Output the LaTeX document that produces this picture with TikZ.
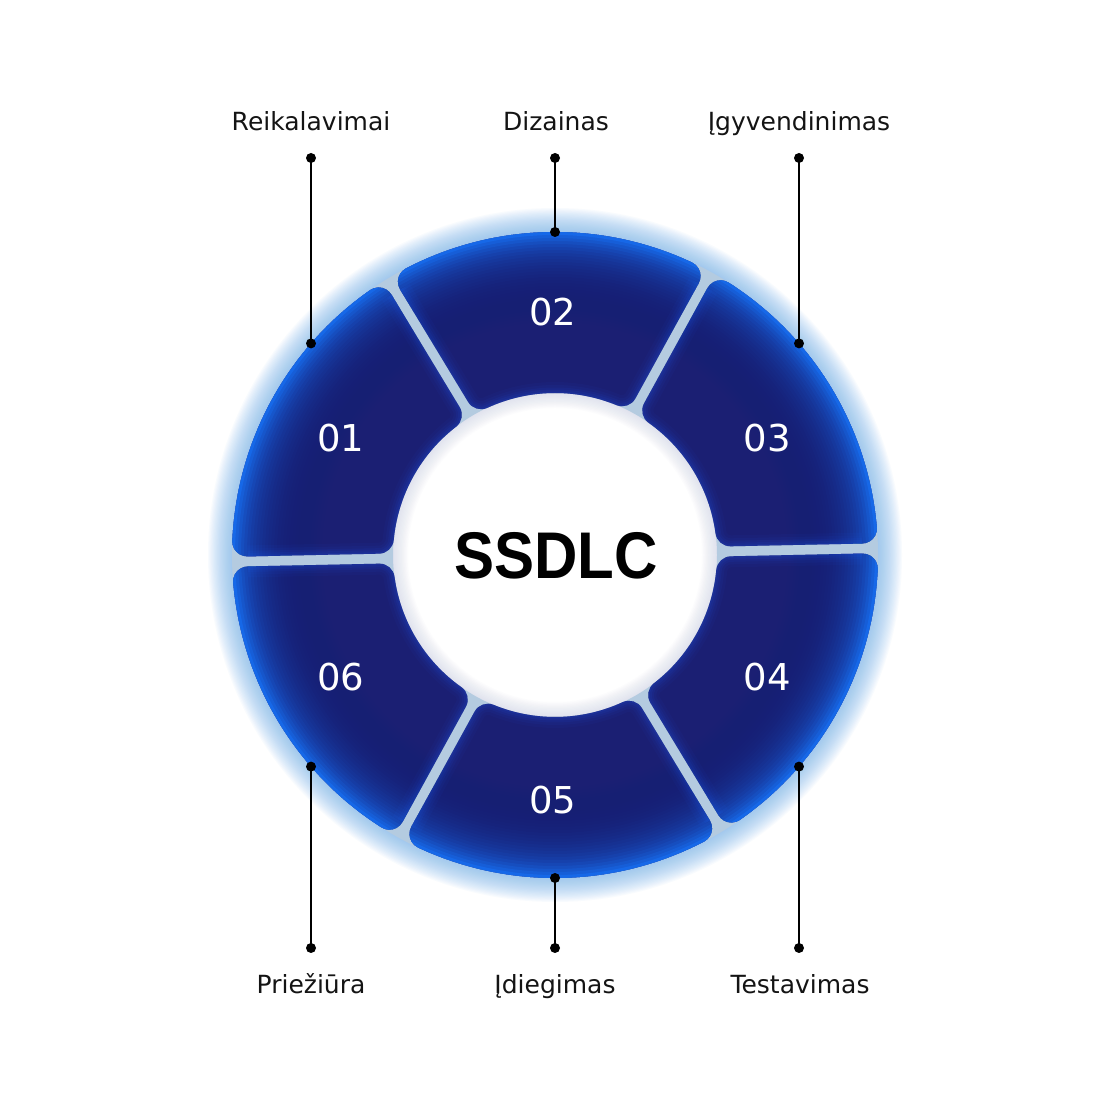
\documentclass[tikz,border=0pt]{standalone}
\usepackage{fontspec}
\setmainfont{DejaVu Sans}
\newfontfamily\titlefont{Liberation Sans}
\usepackage{graphicx}
\definecolor{navy}{RGB}{27,31,115}
\definecolor{rimblue}{RGB}{22,110,240}
\definecolor{edgeblue}{RGB}{36,80,215}
\definecolor{gapcol}{RGB}{180,203,224}
\definecolor{halo}{RGB}{110,175,238}
\definecolor{holeglow}{RGB}{175,182,215}
\definecolor{labtext}{RGB}{20,20,20}
\newcommand\segpath{(63.723:323pt) arc[start angle=63.723, end angle=116.277, radius=323pt] arc[start angle=116.277, end angle=210, radius=15pt] -- (118.372:175.94pt) arc[start angle=210, end angle=293.512, radius=15pt] arc[start angle=113.512, end angle=66.488, radius=162pt] arc[start angle=246.488, end angle=330, radius=15pt] -- (60.932:307.39pt) arc[start angle=-30, end angle=63.723, radius=15pt] -- cycle}
\newcommand\sidepath{(119.068:307.39pt) -- (118.372:175.94pt) arc[start angle=210, end angle=293.512, radius=15pt] arc[start angle=113.512, end angle=66.488, radius=162pt] arc[start angle=246.488, end angle=330, radius=15pt] -- (60.932:307.39pt)}
\newcommand\drawseg[1]{%
  \begin{scope}
    \clip[rotate=#1] \segpath;
    \fill[navy] (0,0) circle (330pt);
    \foreach \w/\o in {22/0.05,16/0.07,11/0.09,7/0.11,3/0.14}{\draw[rotate=#1, edgeblue, line width=\w pt, opacity=\o] \sidepath;}
    \foreach \i in {30,29,...,1}{%
      \pgfmathsetmacro\al{1-(1-0.95*exp(-(\i-1)*3/27))/(1-0.95*exp(-\i*3/27))}%
      \draw[rimblue, line width=6*\i pt, opacity=\al] (0,0) circle (323pt);}
  \end{scope}}
\begin{document}
\begin{tikzpicture}[x=1pt,y=1pt,
  conn/.style={line width=2pt, black},
  dotc/.style={fill=black},
  lab/.style={font=\fontsize{25}{30}\selectfont, text=labtext, anchor=base, inner sep=0pt},
  num/.style={font=\fontsize{37}{44}\selectfont, text=white, inner sep=0pt}]
\useasboundingbox (0,0) rectangle (1110,1110);
\fill[white] (0,0) rectangle (1110,1110);
\begin{scope}[shift={(555,555)}]
  % outer halo
  \foreach \i in {1,...,20}{\draw[halo, line width=2.4*\i pt, opacity=0.045] (0,0) circle (323pt);}
  % hole glow
  \foreach \i in {1,...,12}{\draw[holeglow, line width=2.5*\i pt, opacity=0.03] (0,0) circle (162pt);}
  % gaps
  \fill[gapcol, even odd rule] (0,0) circle (323pt) (0,0) circle (162pt);
  % segments
  \drawseg{1.2}
  \drawseg{-58.8}
  \drawseg{-118.8}
  \drawseg{-178.8}
  \drawseg{121.2}
  \drawseg{61.2}
\end{scope}
% numbers
\node[num] (n01) at (341,672) {01};
\node[num] (n02) at (553,798) {02};
\node[num] (n03) at (767,672) {03};
\node[num] (n04) at (767,433) {04};
\node[num] (n05) at (553,310) {05};
\node[num] (n06) at (341,433) {06};
% title
\node[font=\titlefont\fontsize{66}{70}\selectfont\bfseries, text=black, inner sep=0pt] (title) at (556,554) {\scalebox{0.91}[1]{SSDLC}};
% connectors
\coordinate (t1) at (311,952); \coordinate (r1) at (311,766.6);
\coordinate (t2) at (555,952); \coordinate (r2) at (555,878);
\coordinate (t3) at (799,952); \coordinate (r3) at (799,766.6);
\coordinate (b1) at (311,162); \coordinate (s1) at (311,343.4);
\coordinate (b2) at (555,162); \coordinate (s2) at (555,232);
\coordinate (b3) at (799,162); \coordinate (s3) at (799,343.4);
\foreach \a/\b in {t1/r1,t2/r2,t3/r3,b1/s1,b2/s2,b3/s3}{
  \draw[conn] (\a) -- (\b);
  \fill[dotc] (\a) circle (5pt);
  \fill[dotc] (\b) circle (5pt);
}
% labels
\node[lab] (lreq) at (311,979) {Reikalavimai};
\node[lab] (ldiz) at (556,979) {Dizainas};
\node[lab] (limp) at (799,979) {Įgyvendinimas};
\node[lab] (lmai) at (311,116) {Priežiūra};
\node[lab] (ldep) at (555,116) {Įdiegimas};
\node[lab] (ltes) at (800,116) {Testavimas};
\end{tikzpicture}
\end{document}
